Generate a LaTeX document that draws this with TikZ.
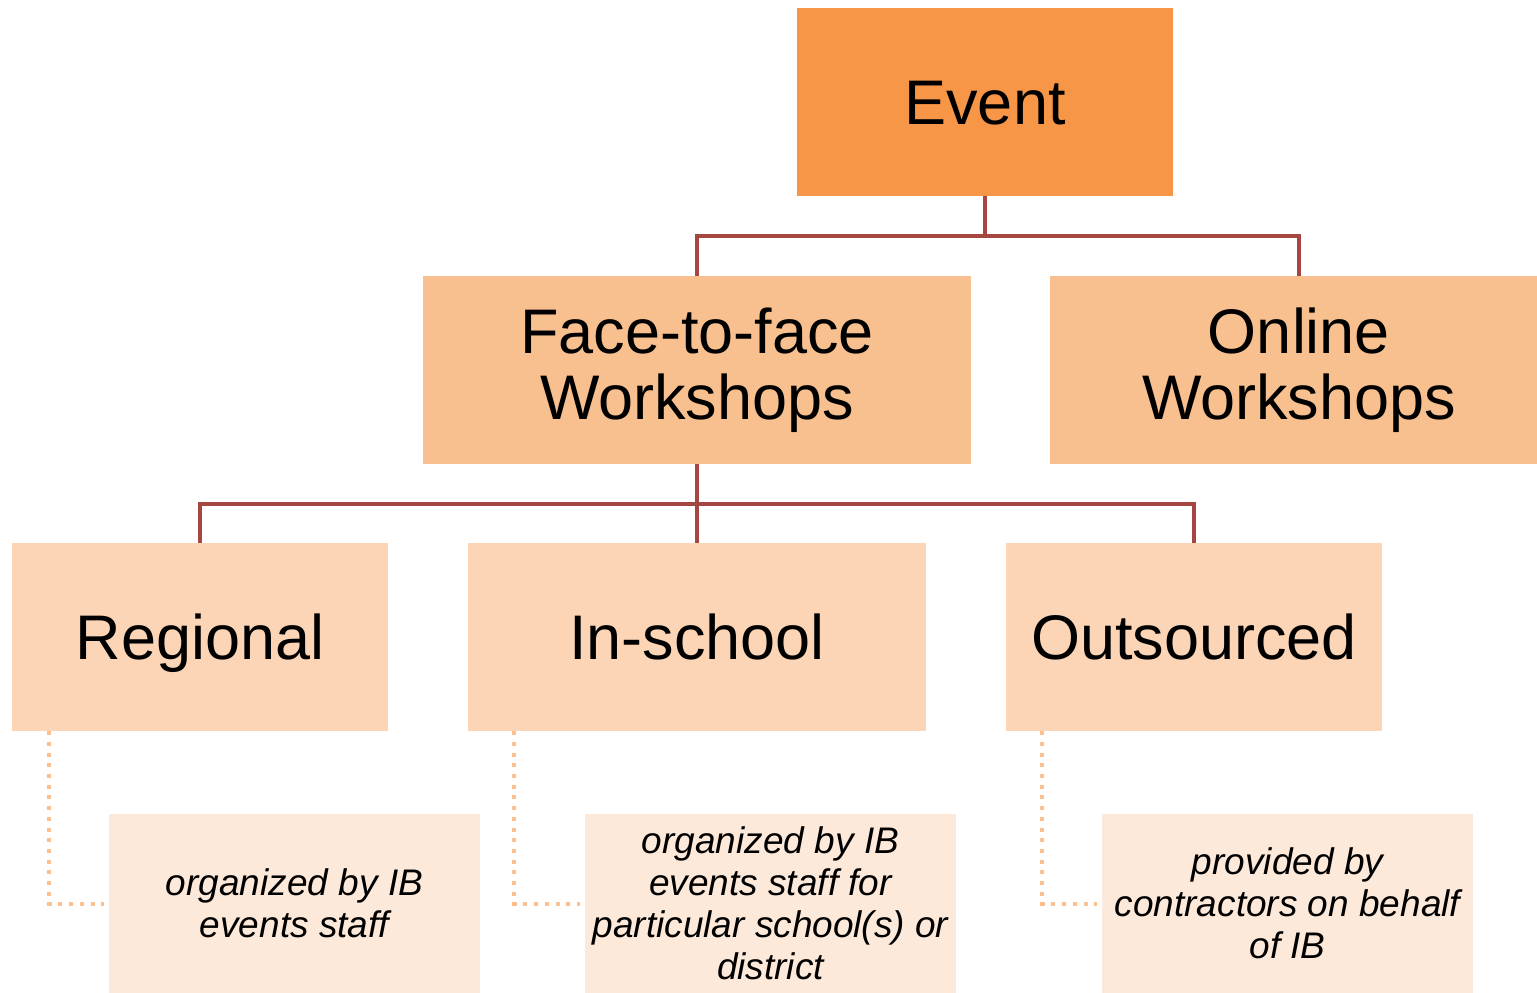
\documentclass[tikz,border=0pt]{standalone}
\usepackage{fontspec}
\setmainfont{Liberation Sans}
\usetikzlibrary{calc}
\definecolor{evcol}{HTML}{F79646}
\definecolor{lvtwo}{HTML}{F9C08F}
\definecolor{lvthree}{HTML}{FBD5B5}
\definecolor{notecol}{HTML}{FDE9D9}
\definecolor{linkcol}{RGB}{165,70,65}
\definecolor{dotcol}{HTML}{FAC090}
\tikzset{
  box/.style={rectangle, inner sep=0pt, align=center, text=black,
    font=\fontsize{63}{66}\selectfont},
  oneline/.style={text height=44pt, text depth=0pt},
  topbox/.style={box, oneline, fill=evcol, minimum width=376pt, minimum height=188pt},
  midbox/.style={box, fill=lvtwo, minimum height=188pt},
  lowbox/.style={box, oneline, fill=lvthree, minimum height=188pt},
  notebox/.style={rectangle, inner sep=0pt, align=center, fill=notecol,
    minimum width=371pt, minimum height=179pt,
    font=\fontsize{37}{42}\selectfont\itshape},
  link/.style={draw=linkcol, line width=4pt},
  dotlink/.style={draw=dotcol, line width=4pt, dash pattern=on 4pt off 6.7pt}
}
\begin{document}
\begin{tikzpicture}[x=1pt,y=-1pt]
\useasboundingbox (0,0) rectangle (1537,993);
\node[topbox] (event) at (985,102) {Event};
\node[midbox, minimum width=548pt] (f2f) at (697,370) {Face-to-face\\Workshops};
\node[midbox, minimum width=498pt] (online) at (1299,370) {Online\\Workshops};
\node[lowbox, minimum width=376pt] (reg) at (200,637) {Regional};
\node[lowbox, minimum width=458pt] (insch) at (697,637) {In-school};
\node[lowbox, minimum width=376pt] (outs) at (1194,637) {Outsourced};
\node[notebox] (regnote) at (294.5,903.5) {organized by IB\\events staff};
\node[notebox] (inschnote) at (770.5,903.5) {organized by IB\\events staff for\\particular school(s) or\\district};
\node[notebox] (outsnote) at (1287.5,903.5) {provided by\\contractors on behalf\\of IB};
% tree connectors
\coordinate (m1) at ($(event.south)!0.5!(f2f.north)$);
\draw[link] (f2f.north) |- (m1) -| (online.north);
\draw[link] (event.south) -- (event.south |- m1);
\coordinate (m2) at ($(f2f.south)!0.5!(insch.north)$);
\draw[link] (reg.north) |- (m2) -| (outs.north);
\draw[link] (f2f.south) -- (insch.north);
% dotted connectors
\draw[dotlink] ([xshift=37pt]reg.south west) |- ([xshift=-5pt]regnote.west);
\draw[dotlink] ([xshift=46pt]insch.south west) |- ([xshift=-5pt]inschnote.west);
\draw[dotlink] ([xshift=36pt]outs.south west) |- ([xshift=-5pt]outsnote.west);
\end{tikzpicture}
\end{document}
